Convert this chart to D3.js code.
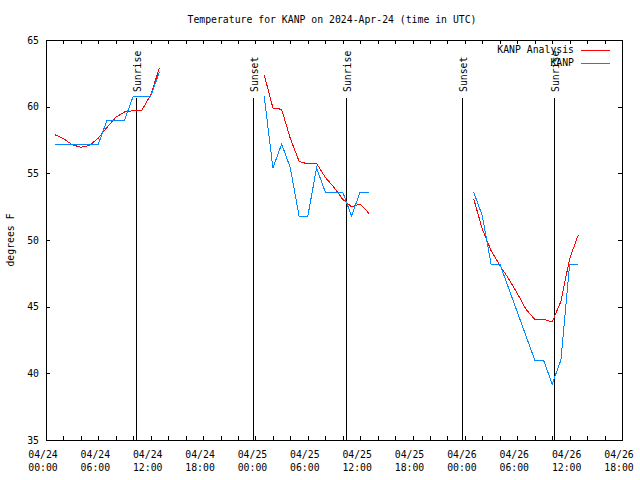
<!DOCTYPE html>
<html><head><meta charset="utf-8">
<script src="https://cdn.jsdelivr.net/npm/d3@7"></script>
<style>
body{margin:0;background:#fff;}
text{font-family:"DejaVu Sans Mono",monospace;font-size:9.8px;fill:#000;}
</style></head>
<body><svg id="c" width="640" height="480"></svg>
<script>
// Hours since 2024-04-24 00:00 UTC
const seg1Hours = [1,2,3,4,5,6,7,8,9,10,11,12,13];
const seg2Hours = [25,26,27,28,29,30,31,32,33,34,35,36,37];
const seg3Hours = [49,50,51,52,53,54,55,56,57,58,59,60,61];
// KANP Analysis (red)
const analysis1 = [57.9,57.6,57.15,56.95,57.1,57.65,58.45,59.2,59.6,59.7,59.75,60.9,62.9];
const analysis2 = [62.4,59.9,59.8,57.6,55.9,55.7,55.75,54.7,53.95,53.05,52.5,52.7,52.0];
const analysis3 = [53.1,50.8,49.2,48.1,47.1,46.0,44.8,44.05,44.05,43.85,45.4,48.6,50.4];
// KANP observations (blue)
const obs1 = [57.2,57.2,57.2,57.2,57.2,57.2,59.0,59.0,59.0,60.8,60.8,60.8,62.6];
const obs2 = [60.8,55.4,57.2,55.4,51.8,51.8,55.4,53.6,53.6,53.6,51.8,53.6,53.6];
const obs3 = [53.6,51.8,48.2,48.2,46.4,44.6,42.8,41.0,41.0,39.2,41.0,48.2,48.2];
// Sun events (hours since start)
const sunEvents = [10.35, 23.75, 34.34, 47.7, 58.25];
const sunLabels = ["Sunrise","Sunset","Sunrise","Sunset","Sunrise"];
const yTicks = [35,40,45,50,55,60,65];
const xTickHours = [0,6,12,18,24,30,36,42,48,54,60,66];
const seriesNames = ["KANP Analysis","KANP"];
const seriesColors = ["#ff0000","#0088ff"];

const t0 = Date.UTC(2024,3,24,0,0);
const toDate = h => new Date(t0 + h*3600000);
const svg = d3.select("#c");
const L=46, R=622, T=40, B=440;
const x = d3.scaleUtc().domain([toDate(0), toDate(66)]).range([L,R]);
const y = d3.scaleLinear().domain([35,65]).range([B,T]);
const fmtD = d3.utcFormat("%m/%d"), fmtT = d3.utcFormat("%H:%M");

// title
svg.append("text").attr("x",332).attr("y",23).attr("text-anchor","middle")
  .text("Temperature for KANP on 2024-Apr-24 (time in UTC)");
// y label
svg.append("text").attr("transform","translate(14,240) rotate(-90)").attr("text-anchor","middle").text("degrees F");

// ticks
const g = svg.append("g").attr("shape-rendering","crispEdges").attr("stroke","#000");
d3.range(0,67,2).forEach(h=>{
  const xx = Math.round(x(toDate(h)))+0.5;
  g.append("line").attr("x1",xx).attr("x2",xx).attr("y1",B).attr("y2",B-4);
  g.append("line").attr("x1",xx).attr("x2",xx).attr("y1",T).attr("y2",T+4);
});
yTicks.forEach(v=>{
  const yy = Math.round(y(v))+0.5;
  g.append("line").attr("x1",L).attr("x2",L+4).attr("y1",yy).attr("y2",yy);
  g.append("line").attr("x1",R).attr("x2",R-4).attr("y1",yy).attr("y2",yy);
  svg.append("text").attr("x",39).attr("y",y(v)+3.5).attr("text-anchor","end").text(v);
});
xTickHours.forEach(h=>{
  const d = toDate(h);
  svg.append("text").attr("x",x(d)-3).attr("y",457.5).attr("text-anchor","middle").text(fmtD(d));
  svg.append("text").attr("x",x(d)-3).attr("y",470.5).attr("text-anchor","middle").text(fmtT(d));
});

// sun event lines
sunEvents.forEach((h,i)=>{
  const xx = Math.round(x(toDate(h)))+0.5;
  g.append("line").attr("x1",xx).attr("x2",xx).attr("y1",B).attr("y2",98);
  svg.append("text").attr("transform",`translate(${xx+4.5},92) rotate(-90)`).text(sunLabels[i]);
});

// border
g.append("rect").attr("x",L+0.5).attr("y",T+0.5).attr("width",R-L).attr("height",B-T).attr("fill","none");

// lines
const line = d3.line().x(d=>x(toDate(d[0]))).y(d=>y(d[1]));
const segs = [[seg1Hours,analysis1,obs1],[seg2Hours,analysis2,obs2],[seg3Hours,analysis3,obs3]];
segs.forEach(([hs,a,o])=>{
  svg.append("path").attr("d",line(hs.map((h,i)=>[h,a[i]]))).attr("fill","none").attr("stroke",seriesColors[0]).attr("stroke-width",1).attr("shape-rendering","crispEdges");
  svg.append("path").attr("d",line(hs.map((h,i)=>[h,o[i]]))).attr("fill","none").attr("stroke",seriesColors[1]).attr("stroke-width",1).attr("shape-rendering","crispEdges");
});

// legend
seriesNames.forEach((n,i)=>{
  const ly = 49.5 + i*13;
  svg.append("text").attr("x",574).attr("y",ly+3.5).attr("text-anchor","end").text(n);
  svg.append("line").attr("x1",581).attr("x2",610).attr("y1",Math.round(ly)+0.5).attr("y2",Math.round(ly)+0.5)
    .attr("stroke",seriesColors[i]).attr("shape-rendering","crispEdges");
});
</script></body></html>
